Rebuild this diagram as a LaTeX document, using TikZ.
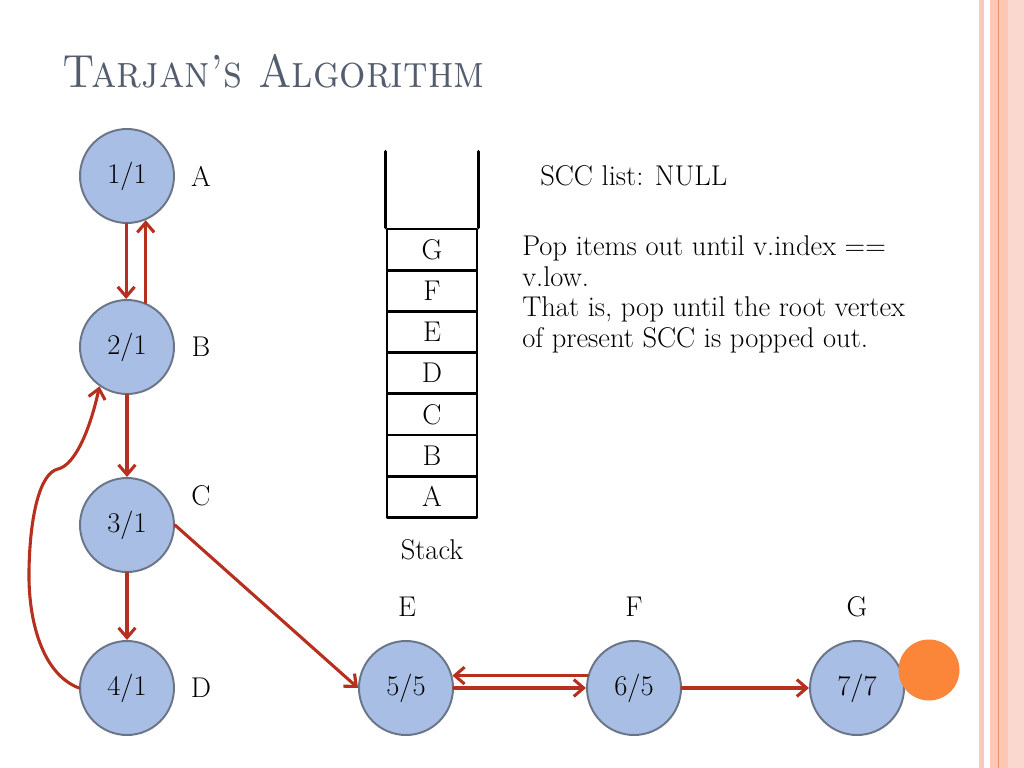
\documentclass[tikz,border=0pt]{standalone}
\usepackage{fontspec}
\usetikzlibrary{arrows.meta}
\definecolor{vertexfill}{RGB}{169,190,229}
\definecolor{vertexline}{RGB}{106,118,136}
\definecolor{arrowred}{RGB}{181,48,30}
\definecolor{titlegray}{RGB}{84,93,110}
\definecolor{stripepink}{RGB}{250,200,186}
\definecolor{bandpink}{RGB}{252,200,180}
\definecolor{bandline}{RGB}{228,150,112}
\definecolor{dotorange}{RGB}{251,133,56}
\tikzset{
  vertex/.style={circle,draw=vertexline,fill=vertexfill,line width=1.4pt,minimum size=94*0.025cm,inner sep=0pt},
  edge/.style={draw=arrowred,line width=2.2pt,-{Straight Barb[length=7pt,width=12pt]}},
  cell/.style={draw,line width=2pt,minimum width=90*0.025cm,minimum height=41.2*0.025cm,inner sep=0pt},
}
\begin{document}
\begin{tikzpicture}[x=0.025cm,y=-0.025cm,line cap=round,line join=round,
    font=\fontsize{20.3}{22}\selectfont]
  \useasboundingbox (0,0) rectangle (1024,768);
  % right border
  \fill[stripepink] (979,0) rectangle (983.5,768);
  \fill[bandpink] (990,0) rectangle (1024,768);
  \fill[stripepink!70!white] (1008,0) rectangle (1024,768);
  \draw[bandline,line width=0.6pt] (998.7,0) -- (998.7,768);
  % title
  \node[anchor=base west,inner sep=0pt,text=titlegray,font=\fontsize{29.5}{32}\selectfont]
    (title) at (62,88) {\scalebox{1}[1.12]{\textsc{Tarjan's Algorithm}}};
  % vertices
  \node[vertex] (A) at (127,176) {1/1};
  \node[vertex] (B) at (127,347) {2/1};
  \node[vertex] (C) at (127,525) {3/1};
  \node[vertex] (D) at (127,688) {4/1};
  \node[vertex] (E) at (406,688) {5/5};
  \node[vertex] (F) at (634,688) {6/5};
  \node[vertex] (G) at (857,688) {7/7};
  \fill[dotorange] (929,670) circle[radius=30.5];
  % vertex names
  \node (lA) at (201,176) {A};
  \node (lB) at (201,347) {B};
  \node (lC) at (201,496) {C};
  \node (lD) at (201,688) {D};
  \node (lE) at (407,607) {E};
  \node (lF) at (634,607) {F};
  \node (lG) at (857,607) {G};
  % edges
  \draw[edge] (A.-91) -- (B.91);
  \draw[edge] (B.67) -- (A.-67);
  \draw[edge] (B) -- (C);
  \draw[edge] (C) -- (D);
  \draw[edge] (D.west) .. controls (42,674) and (28,620) .. (29,570)
    .. controls (30,515) and (40,473) .. (58,469)
    .. controls (75,465) and (90,430) .. (B.-125);
  \draw[edge] (C.east) -- (E.west);
  \draw[edge] (F.165) -- (E.15);
  \draw[edge] (E.east) -- (F.west);
  \draw[edge] (F) -- (G);
  % stack
  \node[cell] (sG) at (432,249.6) {G};
  \node[cell] (sF) at (432,290.8) {F};
  \node[cell] (sE) at (432,332.0) {E};
  \node[cell] (sD) at (432,373.2) {D};
  \node[cell] (sC) at (432,414.4) {C};
  \node[cell] (sB) at (432,455.6) {B};
  \node[cell] (sA) at (432,496.8) {A};
  \draw[line width=2.4pt] (sG.north west) -- ++(0,-76);
  \draw[line width=2.4pt] (sG.north east) -- ++(0,-76);
  \node (stack) at (432,550) {Stack};
  % text
  \node[anchor=west,inner sep=0pt] (scc) at (540,176) {SCC list: NULL};
  \node[anchor=north west,inner sep=0pt,align=left] (note) at (522,235)
    {Pop items out until v.index ==\\v.low.\\That is, pop until the root vertex\\of present SCC is popped out.};
\end{tikzpicture}
\end{document}
